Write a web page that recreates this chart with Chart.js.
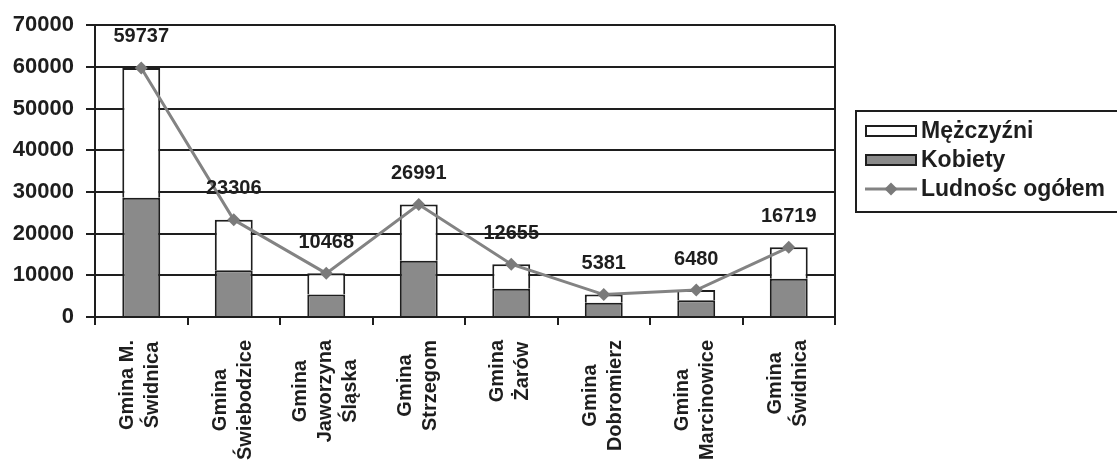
<!DOCTYPE html>
<html>
<head>
<meta charset="utf-8">
<script src="https://cdn.jsdelivr.net/npm/chart.js@4.4.0/dist/chart.umd.min.js"></script>
<style>
  body { margin: 0; background: #fff; }
  #wrap { width: 1117px; height: 463px; }
</style>
</head>
<body>
<div id="wrap"><canvas id="myChart" width="1117" height="463"></canvas></div>
<script>
const categories = [
    ['Gmina M.', 'Świdnica'],
    ['Gmina', 'Świebodzice'],
    ['Gmina', 'Jaworzyna', 'Śląska'],
    ['Gmina', 'Strzegom'],
    ['Gmina', 'Żarów'],
    ['Gmina', 'Dobromierz'],
    ['Gmina', 'Marcinowice'],
    ['Gmina', 'Świdnica']
];
const kobiety = [28600, 11200, 5400, 13500, 6800, 3400, 4000, 9200];
const mezczyzni = [31137, 12106, 5068, 13491, 5855, 1981, 2480, 7519];
const ogolem = [59737, 23306, 10468, 26991, 12655, 5381, 6480, 16719];
const yMax = 70000;
const yStep = 10000;

const FONT = "'Liberation Sans', Arial, sans-serif";
const INK = '#1e1e1e';
const GRAY = '#8a8a8a';
const LINE = '#838383';

// category labels under the axis, rotated, lines centred on the longest one
const xLabels = {
    id: 'xLabels',
    afterDraw(chart) {
        const c = chart.ctx;
        const x = chart.scales.x;
        c.save();
        c.font = 'bold 20px ' + FONT;
        c.fillStyle = INK;
        c.textAlign = 'center';
        c.textBaseline = 'middle';
        categories.forEach((lines, i) => {
            const cx = x.getPixelForValue(i) - 1;
            const maxW = Math.max(...lines.map(l => c.measureText(l).width));
            c.save();
            c.translate(cx, 340);
            c.rotate(-Math.PI / 2);
            lines.forEach((l, j) => {
                const v = (j - (lines.length - 1) / 2) * 25;
                c.fillText(l, -maxW / 2, v);
            });
            c.restore();
        });
        c.restore();
    }
};

// values over the line points
const pointLabels = {
    id: 'pointLabels',
    afterDatasetsDraw(chart) {
        const c = chart.ctx;
        const meta = chart.getDatasetMeta(0);
        c.save();
        c.font = 'bold 20px ' + FONT;
        c.fillStyle = INK;
        c.textAlign = 'center';
        c.textBaseline = 'middle';
        meta.data.forEach((p, i) => {
            c.fillText(String(ogolem[i]), p.x, p.y - 31);
        });
        c.restore();
    }
};

// right border of plot + legend box
const frame = {
    id: 'frame',
    afterDraw(chart) {
        const c = chart.ctx;
        const a = chart.chartArea;
        c.save();
        c.strokeStyle = INK;
        c.lineWidth = 2;
        c.beginPath();
        c.moveTo(a.right, a.top);
        c.lineTo(a.right, a.bottom);
        c.stroke();

        c.strokeRect(856, 111, 300, 101);

        const items = [
            { text: 'Mężczyźni', fill: '#ffffff', y: 131 },
            { text: 'Kobiety', fill: GRAY, y: 160 },
            { text: 'Ludnośc ogółem', line: true, y: 189 }
        ];
        c.font = 'bold 23px ' + FONT;
        c.textBaseline = 'middle';
        items.forEach(it => {
            if (it.line) {
                c.strokeStyle = LINE;
                c.lineWidth = 3;
                c.beginPath();
                c.moveTo(865, it.y);
                c.lineTo(917, it.y);
                c.stroke();
                c.fillStyle = '#7a7a7a';
                c.beginPath();
                c.moveTo(891, it.y - 6.5);
                c.lineTo(897.5, it.y);
                c.lineTo(891, it.y + 6.5);
                c.lineTo(884.5, it.y);
                c.closePath();
                c.fill();
            } else {
                c.fillStyle = it.fill;
                c.fillRect(866, it.y - 5, 50, 10);
                c.strokeStyle = INK;
                c.lineWidth = 2;
                c.strokeRect(866, it.y - 5, 50, 10);
            }
            c.fillStyle = INK;
            c.fillText(it.text, 921, it.y + 1);
        });
        c.restore();
    }
};

const ctx = document.getElementById('myChart');
const myChart = new Chart(ctx, {
    data: {
        labels: categories,
        datasets: [
            {
                type: 'line',
                label: 'Ludnośc ogółem',
                data: ogolem,
                stack: 'total',
                order: 0,
                borderColor: LINE,
                borderWidth: 3,
                pointStyle: 'rectRot',
                pointRadius: 6.5,
                pointBackgroundColor: '#7a7a7a',
                pointBorderColor: '#7a7a7a',
                pointBorderWidth: 0,
                tension: 0
            },
            {
                type: 'bar',
                label: 'Kobiety',
                data: kobiety,
                stack: 'ludnosc',
                order: 1,
                backgroundColor: GRAY,
                borderColor: INK,
                borderWidth: 2,
                barPercentage: 0.41,
                categoryPercentage: 1
            },
            {
                type: 'bar',
                label: 'Mężczyźni',
                data: mezczyzni,
                stack: 'ludnosc',
                order: 2,
                backgroundColor: '#ffffff',
                borderColor: INK,
                borderWidth: 2,
                barPercentage: 0.41,
                categoryPercentage: 1
            }
        ]
    },
    options: {
        responsive: false,
        animation: false,
        layout: { padding: { top: 23, right: 282, left: 0, bottom: 0 } },
        plugins: {
            legend: { display: false },
            tooltip: { enabled: false }
        },
        scales: {
            x: {
                stacked: true,
                offset: true,
                afterFit: s => { s.height = 146; },
                ticks: { display: false },
                grid: {
                    drawOnChartArea: false,
                    drawTicks: true,
                    tickLength: 8,
                    color: INK,
                    lineWidth: 2,
                    offset: true
                },
                border: { color: INK, width: 2 }
            },
            y: {
                stacked: true,
                min: 0,
                max: yMax,
                afterFit: s => { s.width = 95; },
                ticks: {
                    stepSize: yStep,
                    padding: 12,
                    color: INK,
                    font: { family: FONT, size: 22, weight: 'bold' },
                    callback: v => String(v)
                },
                grid: {
                    color: INK,
                    lineWidth: 2,
                    tickLength: 9
                },
                border: { color: INK, width: 2 }
            }
        }
    },
    plugins: [xLabels, pointLabels, frame]
});
</script>
</body>
</html>
